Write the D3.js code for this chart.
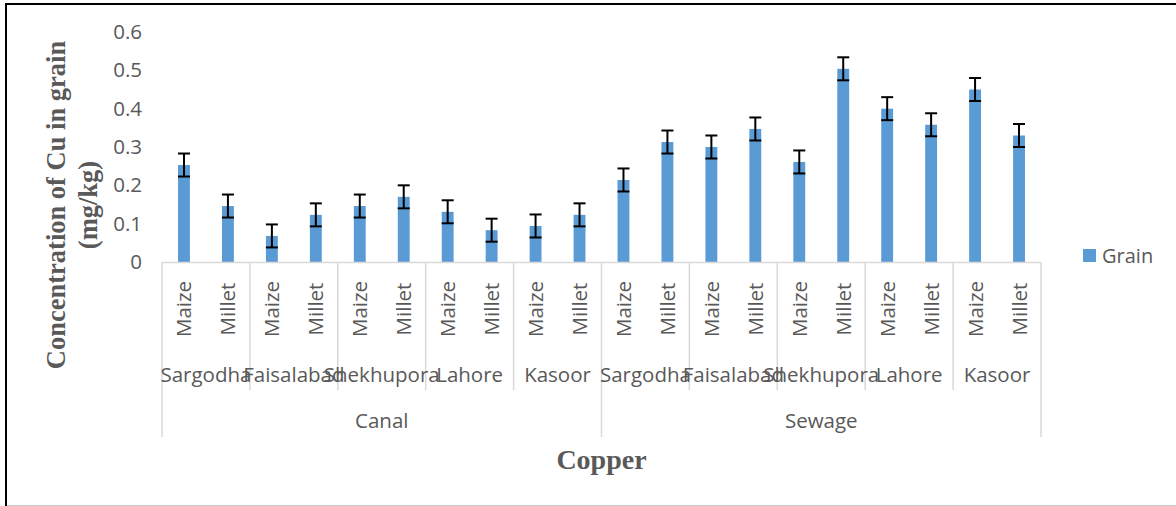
<!DOCTYPE html>
<html>
<head>
<meta charset="utf-8">
<script src="https://cdn.jsdelivr.net/npm/d3@7"></script>
<style>
  body { margin: 0; background: #fff; }
  svg text { fill: #595959; }
</style>
</head>
<body>
<div id="chart"></div>
<script>
const width = 1176, height = 506;

// data
const sources = ['Canal', 'Sewage'];
const districts = ['Sargodha', 'Faisalabad', 'Shekhupora', 'Lahore', 'Kasoor'];
const crops = ['Maize', 'Millet'];
const grain = [0.253, 0.146, 0.068, 0.123, 0.146, 0.170, 0.131, 0.083, 0.094, 0.123,
               0.214, 0.313, 0.300, 0.347, 0.261, 0.504, 0.400, 0.358, 0.450, 0.330];
const grainErr = [0.03, 0.03, 0.03, 0.03, 0.03, 0.03, 0.03, 0.03, 0.03, 0.03,
                  0.03, 0.03, 0.03, 0.03, 0.03, 0.03, 0.03, 0.03, 0.03, 0.03];
const yTicks = [0, 0.1, 0.2, 0.3, 0.4, 0.5, 0.6];

// build rows: source > district > crop
const rows = [];
sources.forEach(s => districts.forEach(d => crops.forEach(c => {
  rows.push({source: s, district: d, crop: c});
})));
rows.forEach((r, i) => { r.value = grain[i]; r.err = grainErr[i]; r.id = i; });

const plot = {left: 162, right: 1041, top: 32, bottom: 262};
const labelSize = '20.5px';

const svg = d3.select('#chart')
  .append('svg')
  .attr('width', width)
  .attr('height', height)
  .style('font-family', '"Open Sans", sans-serif');

// frame
svg.append('line').attr('x1', 5).attr('x2', width).attr('y1', 4).attr('y2', 4)
  .attr('stroke', '#000').attr('stroke-width', 2);
svg.append('line').attr('x1', 6).attr('x2', 6).attr('y1', 3).attr('y2', height)
  .attr('stroke', '#000').attr('stroke-width', 2);
svg.append('line').attr('x1', 7).attr('x2', width).attr('y1', 505.5).attr('y2', 505.5)
  .attr('stroke', '#c8c8c8').attr('stroke-width', 1);

const x = d3.scaleBand()
  .domain(rows.map(d => d.id))
  .range([plot.left, plot.right])
  .paddingInner(0.73)
  .paddingOuter(0.365);

const y = d3.scaleLinear()
  .domain([0, 0.6])
  .range([plot.bottom, plot.top]);

// y axis labels (no line)
const yAxis = svg.append('g')
  .attr('transform', `translate(${plot.left - 20},0)`)
  .call(d3.axisLeft(y).tickValues(yTicks).tickSize(0).tickPadding(0)
    .tickFormat(d => d === 0 ? '0' : d3.format('.1f')(d)));
yAxis.select('.domain').remove();
yAxis.selectAll('text')
  .style('font-size', labelSize)
  .style('font-family', '"Open Sans", sans-serif')
  .attr('fill', '#595959');

// bars
svg.append('g').selectAll('rect')
  .data(rows)
  .enter()
  .append('rect')
  .attr('x', d => x(d.id))
  .attr('width', x.bandwidth())
  .attr('y', d => y(d.value))
  .attr('height', d => y(0) - y(d.value))
  .attr('fill', '#5B9BD5');

// error bars
const eb = svg.append('g').selectAll('g')
  .data(rows)
  .enter()
  .append('g')
  .attr('stroke', '#000')
  .attr('stroke-width', 2);
const cx = d => x(d.id) + x.bandwidth() / 2;
eb.append('line')
  .attr('x1', cx).attr('x2', cx)
  .attr('y1', d => y(d.value + d.err)).attr('y2', d => y(d.value - d.err));
eb.append('line')
  .attr('x1', d => cx(d) - 6).attr('x2', d => cx(d) + 6)
  .attr('y1', d => y(d.value + d.err)).attr('y2', d => y(d.value + d.err));
eb.append('line')
  .attr('x1', d => cx(d) - 6).attr('x2', d => cx(d) + 6)
  .attr('y1', d => y(d.value - d.err)).attr('y2', d => y(d.value - d.err));

// category axis (multi-level)
const grid = '#d9d9d9';
const step = x.step();
const axisG = svg.append('g');
axisG.append('line')
  .attr('x1', plot.left).attr('x2', plot.right)
  .attr('y1', plot.bottom + 0.5).attr('y2', plot.bottom + 0.5)
  .attr('stroke', grid).attr('stroke-width', 1.5);

// district separators
const nGroups = sources.length * districts.length;
d3.range(nGroups + 1).forEach(i => {
  const gx = plot.left + i * step * crops.length;
  const outer = i % districts.length === 0;
  axisG.append('line')
    .attr('x1', gx).attr('x2', gx)
    .attr('y1', plot.bottom).attr('y2', outer ? 437 : 390)
    .attr('stroke', grid).attr('stroke-width', 1.5);
});

// crop labels
axisG.selectAll('text.crop')
  .data(rows)
  .enter()
  .append('text')
  .attr('class', 'crop')
  .attr('transform', d => `translate(${cx(d) + 7.5},309) rotate(-90)`)
  .attr('text-anchor', 'middle')
  .style('font-size', labelSize)
  .text(d => d.crop);

// district labels
const groupRows = [];
sources.forEach(s => districts.forEach(d => groupRows.push({source: s, district: d})));
axisG.selectAll('text.district')
  .data(groupRows)
  .enter()
  .append('text')
  .attr('class', 'district')
  .attr('x', (d, i) => plot.left + (i + 0.5) * step * crops.length)
  .attr('y', 382)
  .attr('text-anchor', 'middle')
  .style('font-size', labelSize)
  .text(d => d.district);

// source labels
axisG.selectAll('text.source')
  .data(sources)
  .enter()
  .append('text')
  .attr('class', 'source')
  .attr('x', (d, i) => plot.left + (i + 0.5) * step * crops.length * districts.length)
  .attr('y', 428)
  .attr('text-anchor', 'middle')
  .style('font-size', labelSize)
  .text(d => d);

// axis titles
svg.append('text')
  .attr('x', (plot.left + plot.right) / 2)
  .attr('y', 469)
  .attr('text-anchor', 'middle')
  .style('font-family', '"Liberation Serif", "Times New Roman", serif')
  .style('font-weight', 'bold')
  .style('font-size', '28px')
  .text('Copper');

const yTitle = svg.append('text')
  .attr('transform', 'translate(65,205) rotate(-90)')
  .attr('text-anchor', 'middle')
  .style('font-family', '"Liberation Serif", "Times New Roman", serif')
  .style('font-weight', 'bold')
  .style('font-size', '26.5px');
yTitle.append('tspan').attr('x', 0).attr('dy', 0).text('Concentration of Cu in grain');
yTitle.append('tspan').attr('x', 0).attr('dy', 32).text('(mg/kg)');

// legend
const legend = svg.append('g').attr('transform', 'translate(1083,249)');
legend.append('rect').attr('width', 13).attr('height', 13).attr('fill', '#5B9BD5');
legend.append('text')
  .attr('x', 19).attr('y', 13.5)
  .style('font-size', '20px')
  .text('Grain');
</script>
</body>
</html>
